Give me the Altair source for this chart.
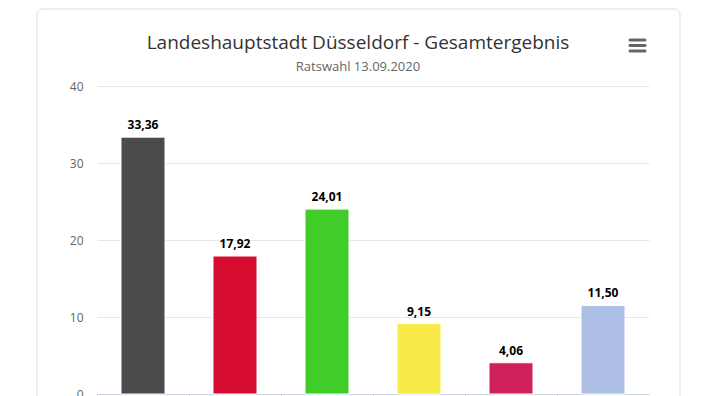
import altair as alt
import pandas as pd

parties = ["CDU", "SPD", "GRÜNE", "FDP", "DIE LINKE", "Sonstige"]
values = [33.36, 17.92, 24.01, 9.15, 4.06, 11.50]
colors = ["#4b4b4b", "#d50b2f", "#40cd29", "#f8ea48", "#cf225b", "#adbfe4"]
y_ticks = [0, 10, 20, 30, 40]
title_text = "Landeshauptstadt Düsseldorf - Gesamtergebnis"
subtitle_text = "Ratswahl 13.09.2020"

FONT = "Open Sans"

df = pd.DataFrame({"party": parties, "value": values})
one = pd.DataFrame({"a": [0]})

x_enc = alt.X("party:N", sort=parties, scale=alt.Scale(paddingInner=0, paddingOuter=0),
              axis=alt.Axis(title=None, labels=False, grid=False, domainColor="#ccd6eb",
                            tickColor="#ccd6eb", tickSize=10, bandPosition=0))
y_enc = alt.Y("value:Q", scale=alt.Scale(domain=[0, 40], nice=False),
              axis=alt.Axis(title=None, values=y_ticks, grid=True, gridColor="#e6e6e6",
                            domain=False, ticks=False, labelColor="#666666", labelFontSize=12,
                            labelFont=FONT, labelPadding=14))

bars = alt.Chart(df).mark_bar(size=44, stroke="white", strokeWidth=1).encode(
    x=x_enc, y=y_enc,
    color=alt.Color("party:N", scale=alt.Scale(domain=parties, range=colors), legend=None),
)

labels = alt.Chart(df).transform_calculate(
    lab="replace(format(datum.value, '.2f'), '.', ',')"
).mark_text(dy=-5, baseline="bottom", fontWeight="bold", fontSize=12, font=FONT, color="#000000").encode(
    x=alt.X("party:N", sort=parties), y="value:Q", text="lab:N"
)

card = alt.Chart(one).mark_rect(fillOpacity=0, stroke="#dcdcdc", strokeWidth=1, cornerRadius=6).encode(
    x=alt.value(-60), x2=alt.value(583), y=alt.value(-77), y2=alt.value(340)
)

title = alt.Chart(one).mark_text(fontSize=19, font=FONT, color="#333333", baseline="middle", align="center").encode(
    x=alt.value(261), y=alt.value(-43), text=alt.value(title_text)
)
subtitle = alt.Chart(one).mark_text(fontSize=13, font=FONT, color="#666666", baseline="middle", align="center").encode(
    x=alt.value(261), y=alt.value(-19), text=alt.value(subtitle_text)
)

menu_rows = pd.DataFrame({"yy": [-46, -40.5, -35]})
menu = alt.Chart(menu_rows).mark_rule(stroke="#666666", strokeWidth=3, strokeCap="round").encode(
    x=alt.value(533), x2=alt.value(548), y=alt.Y("yy:Q", scale=None)
)

chart = alt.layer(card, bars, labels, title, subtitle, menu).properties(
    width=552, height=308,
    autosize=alt.AutoSizeParams(type="none"),
    padding={"left": 89, "top": 78, "right": 40, "bottom": 2},
).configure_view(stroke=None)

chart.save("out.html", embed_options={"renderer": "svg", "actions": False})
